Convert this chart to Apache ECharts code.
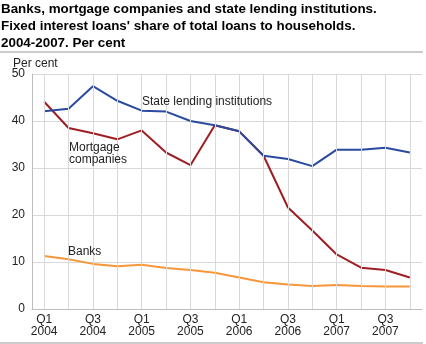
<!DOCTYPE html>
<html>
<head>
<meta charset="utf-8">
<script src="https://cdn.jsdelivr.net/npm/echarts@6/dist/echarts.min.js"></script>
<style>
html,body{margin:0;padding:0;background:#fff;}
#c{width:426px;height:344px;}
</style>
</head>
<body>
<div id="c"></div>
<script>
var categories = ['Q1 2004','Q2 2004','Q3 2004','Q4 2004','Q1 2005','Q2 2005','Q3 2005','Q4 2005',
                  'Q1 2006','Q2 2006','Q3 2006','Q4 2006','Q1 2007','Q2 2007','Q3 2007','Q4 2007'];
var stateLending = [42.1, 42.6, 47.4, 44.3, 42.2, 42.0, 40.0, 39.1, 37.8, 32.6, 31.9, 30.4, 33.9, 33.9, 34.3, 33.3];
var mortgageCompanies = [44.1, 38.5, 37.4, 36.1, 38.0, 33.3, 30.6, 39.1, 37.8, 32.6, 21.6, 16.7, 11.6, 8.8, 8.3, 6.7];
var banks = [11.3, 10.6, 9.6, 9.1, 9.4, 8.7, 8.3, 7.7, 6.7, 5.7, 5.2, 4.9, 5.1, 4.9, 4.8, 4.8];
var yTicks = [0, 10, 20, 30, 40, 50];
var titleLines = ['Banks, mortgage companies and state lending institutions.',
                  "Fixed interest loans' share of total loans to households.",
                  '2004-2007. Per cent'];
var yName = 'Per cent';

var chart = echarts.init(document.getElementById('c'), null, {renderer: 'canvas'});
var font = '"Liberation Sans", Arial, sans-serif';
var gridCol = '#d9d9d9';

var option = {
  animation: false,
  backgroundColor: '#fff',
  grid: {left: 32, right: 4, top: 74, bottom: 35, containLabel: false},
  xAxis: {
    type: 'category',
    data: categories,
    boundaryGap: true,
    axisLine: {show: true, lineStyle: {color: '#bdbdbd', width: 1}},
    axisTick: {show: false},
    splitLine: {show: false},
    axisLabel: {
      interval: 1,
      color: '#222',
      fontFamily: font,
      fontSize: 12,
      lineHeight: 12,
      margin: 5,
      formatter: function (v) { return v.replace(' ', '\n'); }
    }
  },
  yAxis: {
    type: 'value',
    min: yTicks[0],
    max: yTicks[yTicks.length - 1],
    interval: yTicks[1] - yTicks[0],
    axisLine: {show: true, lineStyle: {color: '#bdbdbd', width: 1}},
    axisTick: {show: false},
    splitLine: {show: true, lineStyle: {color: gridCol, width: 1}},
    axisLabel: {color: '#222', fontFamily: font, fontSize: 12, margin: 7}
  },
  series: [
    {
      type: 'line', data: [], z: 1, silent: true,
      markLine: {
        silent: true, symbol: 'none', label: {show: false},
        lineStyle: {color: gridCol, type: 'solid', width: 1},
        data: categories.map(function (c) { return {xAxis: c}; })
      }
    },
    {name: 'Banks', type: 'line', data: banks, symbol: 'none', z: 3,
     lineStyle: {color: '#f7963a', width: 2}},
    {name: 'Mortgage companies', type: 'line', data: mortgageCompanies, symbol: 'none', z: 3,
     lineStyle: {color: '#9e1f23', width: 2}},
    {name: 'State lending institutions', type: 'line', data: stateLending, symbol: 'none', z: 4,
     lineStyle: {color: '#2a4a9e', width: 2}}
  ],
  graphic: [
    {type: 'text', z: 10, left: 1, top: 1, style: {text: titleLines.join('\n'), font: 'bold 13.4px ' + font, fill: '#000', lineHeight: 17}},
    {type: 'rect', z: 10, shape: {x: 0, y: 51, width: 423, height: 2}, style: {fill: '#cccccc'}},
    {type: 'rect', z: 10, shape: {x: 0, y: 342, width: 423, height: 2}, style: {fill: '#cccccc'}},
    {type: 'text', z: 10, left: 13, top: 58, style: {text: yName, font: '12px ' + font, fill: '#222'}},
    {type: 'text', z: 10, left: 142, top: 96, style: {text: 'State lending institutions', font: '12px ' + font, fill: '#222'}},
    {type: 'text', z: 10, left: 69, top: 142, style: {text: 'Mortgage\ncompanies', font: '12px ' + font, fill: '#222', lineHeight: 11.5}},
    {type: 'text', z: 10, left: 68, top: 246, style: {text: 'Banks', font: '12px ' + font, fill: '#222'}}
  ]
};
chart.setOption(option);
</script>
</body>
</html>
